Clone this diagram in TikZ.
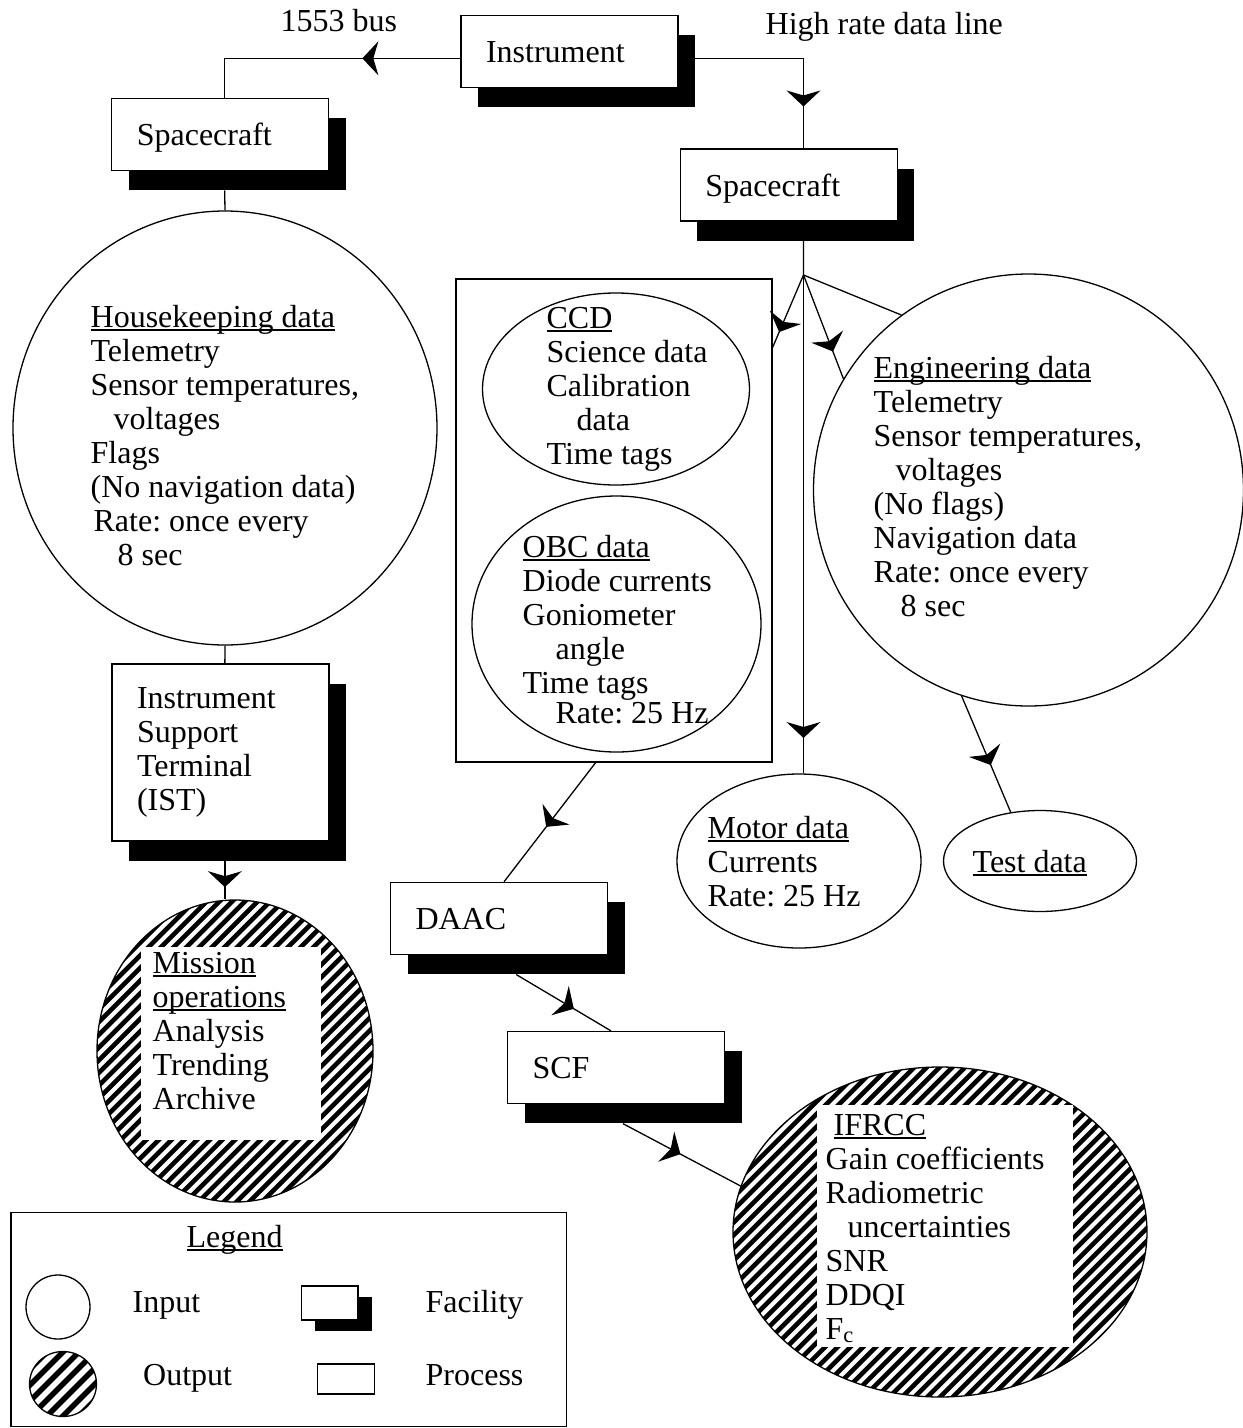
\documentclass[tikz,border=0pt]{standalone}
\usepackage{fontspec}
\setmainfont{Liberation Serif}
\usetikzlibrary{arrows.meta,decorations.markings,shapes.geometric,shadows,calc}
\frenchspacing
\newcommand\myul[1]{\setbox0\hbox{#1}\rlap{\rule[-3.5pt]{\wd0}{1.3pt}}\box0}
\newcommand\mylines[1]{\begin{tabular}[t]{@{}l@{}}#1\end{tabular}}
\newcommand\myind[1]{\hspace*{#1pt}}
\newcommand\fmarrow{\arrow{Stealth[length=16pt,width=34pt,inset=5pt]}}
\begin{document}
\begin{tikzpicture}[x=1pt,y=-1pt, line width=1.3pt, font=\fontsize{32}{34}\selectfont,
  fac/.style={draw, fill=white, rectangle, inner sep=0pt, inner xsep=25pt,
    minimum width=217pt, minimum height=72pt, text width=167pt, align=left,
    drop shadow={shadow xshift=17pt, shadow yshift=-19.5pt, fill=black, opacity=1}},
  oneline/.style={text height=22pt, text depth=0pt},
  inp/.style={draw, ellipse, inner sep=0pt},
  hatch/.style 2 args={path picture={
    \foreach \k in {-34,...,34}{
      \draw[line width=#2] ($(path picture bounding box.center)+(\k*#1-300,300)$) -- ++(600,-600);
    }}},
  outp/.style={draw, ellipse, inner sep=0pt, fill=white, hatch={12.7}{4.6pt}},
  whitebox/.style={fill=white, inner sep=0pt},
  txt/.style={anchor=base west, inner sep=0pt},
  midarrow/.style={postaction={decorate, decoration={markings, mark=at position #1 with {\fmarrow}}}}
]
\path[use as bounding box, fill=white] (0,0) rectangle (1243,1428);

% facilities
\node[fac, oneline] (inst) at (569.5,51.7) {Instrument};
\node[fac, oneline] (sc1) at (220.3,134.3) {Spacecraft};
\node[fac, oneline] (sc2) at (788.75,185) {Spacecraft};
\node[fac, minimum height=177pt] (ist) at (220.5,752.5) {Instrument\\Support\\Terminal\\(IST)};
\node[fac, oneline] (daac) at (499,918.4) {DAAC};
\node[fac, oneline] (scf) at (616,1067.5) {SCF};

% process box
\node[draw, minimum width=316pt, minimum height=483pt, inner sep=0pt] (proc) at (614,520.5) {};

% inputs
\node[inp, minimum width=424pt, minimum height=434pt] (hk) at (225,428) {};
\node[inp, minimum width=430pt, minimum height=432pt] (eng) at (1028.5,490) {};
\node[inp, minimum width=267pt, minimum height=192pt] (ccd) at (616,389) {};
\node[inp, minimum width=289pt, minimum height=256pt] (obc) at (616.5,624) {};
\node[inp, minimum width=244pt, minimum height=174pt] (motor) at (799,861) {};
\node[inp, minimum width=193pt, minimum height=101pt] (test) at (1040,861) {};

% outputs
\node[outp, minimum width=276pt, minimum height=302pt] (mission) at (235,1051) {};
\node[whitebox, minimum width=180pt, minimum height=193pt] (mwhite) at (231,1043.5) {};
\node[outp, minimum width=414pt, minimum height=330pt] (ifrcc) at (940,1232) {};
\node[whitebox, minimum width=256pt, minimum height=242pt] (iwhite) at (945,1226) {};

% connectors
\coordinate (branch) at (803.5,275);
\draw[midarrow=98pt] ($(inst.north west)!0.59!(inst.south west)$) -| ($(sc1.north west)!0.52!(sc1.north east)$);
\draw[midarrow=173pt] ($(inst.north east)!0.59!(inst.south east)$) -| ($(sc2.north west)!0.5675!(sc2.north east)$);
\draw ($(sc1.south west)!0.52!(sc1.south east)+(0,19.5)$) -- (hk.north);
\draw (hk.south) -- ($(ist.north west)!0.52!(ist.north east)$);
\coordinate (istb) at ($(ist.south west)!0.52!(ist.south east)+(0,19.5)$);
\draw[midarrow=26pt] (istb) -- (istb |- mission.north);
\draw ($(sc2.south west)!0.5675!(sc2.south east)+(0,19.5)$) -- (branch);
\draw[midarrow=62pt] (branch) -- ($(proc.north east)+(0,69)$);
\draw[midarrow=82pt] (branch) -- (eng.149.6);
\draw (branch) -- (eng.126.8);
\draw[midarrow=463pt] (branch) -- (branch |- motor.north);
\draw[midarrow=75pt] (eng.252.5) -- (test.121);
\draw[midarrow=81pt] ($(proc.south west)!0.442!(proc.south east)$) -- ($(daac.north west)!0.523!(daac.north east)$);
\draw[midarrow=67pt] ($(daac.south west)!0.579!(daac.south east)+(0,19.5)$) -- ($(scf.north west)!0.477!(scf.north east)$);
\draw[midarrow=65pt] ($(scf.south west)!0.532!(scf.south east)+(0,19.5)$) -- (ifrcc.167.6);

% labels
\node[txt] (l1553) at (280,31.7) {1553 bus};
\node[txt] (lhigh) at (765,34) {High rate data line};

% texts
\node[txt] (hktxt) at (90,327) {\mylines{\myul{Housekeeping data}\\Telemetry\\Sensor temperatures,\\\myind{23}voltages\\Flags\\(No navigation data)\\\myind{3}Rate: once every\\\myind{27}8 sec}};
\node[txt] (engtxt) at (873,378) {\mylines{\myul{Engineering data}\\Telemetry\\Sensor temperatures,\\\myind{22}voltages\\(No flags)\\Navigation data\\Rate: once every\\\myind{27}8 sec}};
\node[txt] (ccdtxt) at (546,328) {\mylines{\myul{CCD}\\Science data\\Calibration\\\myind{30}data\\Time tags}};
\node[txt] (obctxt) at (522,557) {\mylines{\myul{OBC data}\\Diode currents\\Goniometer\\\myind{33}angle\\Time tags\\[-4pt]\myind{33}Rate: 25 Hz}};
\node[txt] (motortxt) at (707,838) {\mylines{\myul{Motor data}\\Currents\\Rate: 25 Hz}};
\node[txt] (testtxt) at (972,872) {\myul{Test data}};
\node[txt] (missiontxt) at (152,973) {\mylines{\myul{Mission}\\\myul{operations}\\Analysis\\Trending\\Archive}};
\node[txt] (ifrcctxt) at (825,1135) {\mylines{\myind{8}\myul{IFRCC}\\Gain coefficients\\Radiometric\\\myind{22}uncertainties\\SNR\\DDQI\\F\textsubscript{c}}};

% legend
\node[draw, minimum width=555.6pt, minimum height=214pt, inner sep=0pt, anchor=north west] (legend) at (10.4,1212) {};
\node[txt] (legtitle) at (186,1247) {\myul{Legend}};
\node[inp, minimum width=64pt, minimum height=64pt] (linp) at (58,1307) {};
\node[draw, ellipse, inner sep=0pt, fill=white, hatch={16}{5.6pt}, minimum width=67pt, minimum height=65pt] (lout) at (63,1384) {};
\node[draw, fill=white, minimum width=56.5pt, minimum height=34pt, inner sep=0pt,
  drop shadow={shadow xshift=13.5pt, shadow yshift=-11pt, fill=black, opacity=1}] (lfac) at (329.75,1303) {};
\node[draw, minimum width=57pt, minimum height=30pt, inner sep=0pt] (lproc) at (346,1379) {};
\node[txt] (linptxt) at (132,1312) {Input};
\node[txt] (lfactxt) at (425,1312) {Facility};
\node[txt] (louttxt) at (142.5,1385) {Output};
\node[txt] (lproctxt) at (425,1385) {Process};
\end{tikzpicture}
\end{document}
